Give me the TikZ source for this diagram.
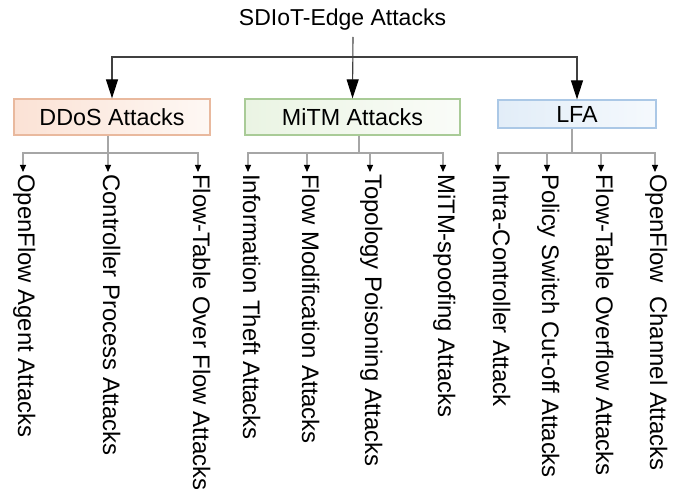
\documentclass[tikz,border=0pt]{standalone}
\usepackage{fontspec}
\setmainfont{Liberation Sans}
\usetikzlibrary{arrows.meta}
\definecolor{ddosB}{HTML}{E9B99E}
\definecolor{ddosL}{HTML}{FBE2D5}
\definecolor{ddosR}{HTML}{FEF8F4}
\definecolor{mitmB}{HTML}{A9CB97}
\definecolor{mitmL}{HTML}{EAF4E3}
\definecolor{mitmR}{HTML}{FAFCF8}
\definecolor{lfaB}{HTML}{ABC8E6}
\definecolor{lfaL}{HTML}{E2EDF8}
\definecolor{lfaR}{HTML}{F5F9FD}
\begin{document}
\begin{tikzpicture}[x=1pt,y=-1pt,
  lbl/.style={font=\fontsize{23}{27}\selectfont, inner sep=0pt},
  catbox/.style={rectangle, line width=1.3pt, inner sep=0pt, font=\fontsize{23.3}{27}\selectfont},
  toparr/.style={draw=black!75, line width=1.1pt, -{Triangle[length=19pt,width=12pt,color=black]}},
  subline/.style={draw=black!35, line width=1.1pt},
  subarr/.style={subline, -{Triangle[length=7pt,width=6pt,color=black]}},
  sublbl/.style={inner sep=0pt, font=\fontsize{23.9}{27}\selectfont, rotate=-90, anchor=base west}]
\useasboundingbox (0,0) rectangle (678,489);

% title
\node[lbl, anchor=base] (title) at (342.5,26) {SDIoT-Edge Attacks};

% category boxes
\node[catbox, draw=ddosB, left color=ddosL, right color=ddosR,
      minimum width=196pt, minimum height=36pt] (ddos) at (112,117) {DDoS Attacks};
\node[catbox, draw=mitmB, left color=mitmL, right color=mitmR,
      minimum width=215pt, minimum height=36pt] (mitm) at (352.5,117) {MiTM Attacks};
\node[catbox, draw=lfaB, left color=lfaL, right color=lfaR,
      minimum width=158pt, minimum height=28pt] (lfa) at (577,114) {LFA};

% top connectors
\coordinate (tstart) at (353,37);
\coordinate (hub) at (353,57);
\draw[toparr] (tstart) -- (mitm.north);
\draw[toparr] (hub) -| (ddos.north);
\draw[toparr] (hub) -| (lfa.north);

% DDoS leaves
\coordinate (dj) at (108,153);
\draw[subline] (ddos.south -| dj) -- (dj);
\foreach \x/\n/\t in {23/d1/OpenFlow Agent Attacks,
                       108/d2/Controller Process Attacks,
                       198/d3/Flow-Table Over Flow Attacks}{
  \coordinate (\n tip) at (\x,172);
  \node[sublbl] (\n) at (\x-5,174) {\t};
  \draw[subarr] (dj) -| (\n tip);
}

% MiTM leaves
\coordinate (mj) at (359,153);
\draw[subline] (mitm.south -| mj) -- (mj);
\foreach \x/\n/\t in {248/m1/Information Theft Attacks,
                       307/m2/Flow Modification Attacks,
                       370/m3/Topology Poisoning Attacks,
                       443/m4/MiTM-spoofing Attacks}{
  \coordinate (\n tip) at (\x,172);
  \node[sublbl] (\n) at (\x-5,174) {\t};
  \draw[subarr] (mj) -| (\n tip);
}

% LFA leaves
\coordinate (lj) at (572,153);
\draw[subline] (lfa.south -| lj) -- (lj);
\foreach \x/\n/\t in {498/l1/Intra-Controller Attack,
                       547/l2/Policy Switch Cut-off Attacks,
                       601/l3/Flow-Table Overflow Attacks,
                       655/l4/OpenFlow\ \ Channel Attacks}{
  \coordinate (\n tip) at (\x,172);
  \node[sublbl] (\n) at (\x-5,174) {\t};
  \draw[subarr] (lj) -| (\n tip);
}
\end{tikzpicture}
\end{document}
